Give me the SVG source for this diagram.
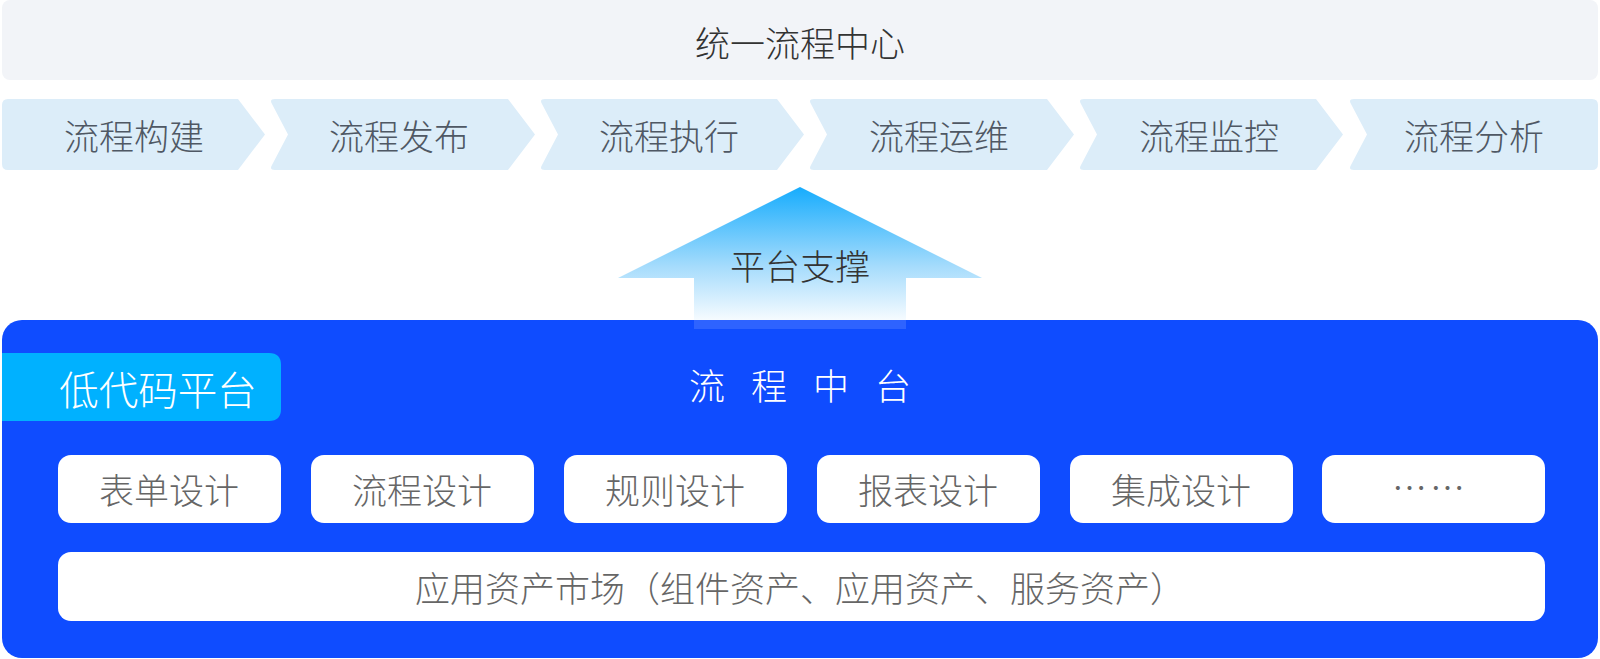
<svg xmlns="http://www.w3.org/2000/svg" width="1600" height="659" viewBox="0 0 1600 659">
<style>
text{font-family:"Noto Sans CJK SC","Noto Sans",sans-serif;font-weight:300;text-anchor:middle;dominant-baseline:central}
.chev{fill:#dcedf9}
.ct{font-size:35px;fill:#4f5864}
.box{fill:#ffffff}
.bt{font-size:35px;fill:#666666}
</style>
<defs>
<linearGradient id="ag" x1="0" y1="0" x2="0" y2="1" gradientUnits="objectBoundingBox">
<stop offset="0" stop-color="#16acfd"/>
<stop offset="0.6" stop-color="#a6dcfc"/>
<stop offset="1" stop-color="#f6fbff"/>
</linearGradient>
</defs>
<rect width="1600" height="659" fill="#ffffff"/>
<g id="top">
<rect x="2" y="0" width="1596" height="80" rx="8" fill="#f2f4f8"/>
<text x="800" y="41" font-size="35" fill="#333333">统一流程中心</text>
</g>
<g id="step1"><path class="chev" d="M8,99 H238 L265,134.5 L238,170 H8 Q2,170 2,164 V105 Q2,99 8,99 Z"/><text class="ct" x="134" y="134">流程构建</text></g>
<g id="step2"><path class="chev" d="M275,99 H508 L535,134.5 L508,170 H275 Q269,170 272,165 L288,134.5 L272,104 Q269,99 275,99 Z"/><text class="ct" x="399" y="134">流程发布</text></g>
<g id="step3"><path class="chev" d="M545,99 H777 L804,134.5 L777,170 H545 Q539,170 542,165 L558,134.5 L542,104 Q539,99 545,99 Z"/><text class="ct" x="669" y="134">流程执行</text></g>
<g id="step4"><path class="chev" d="M814,99 H1047 L1074,134.5 L1047,170 H814 Q808,170 811,165 L827,134.5 L811,104 Q808,99 814,99 Z"/><text class="ct" x="939" y="134">流程运维</text></g>
<g id="step5"><path class="chev" d="M1084,99 H1316 L1343,134.5 L1316,170 H1084 Q1078,170 1081,165 L1097,134.5 L1081,104 Q1078,99 1084,99 Z"/><text class="ct" x="1209" y="134">流程监控</text></g>
<g id="step6"><path class="chev" d="M1354,99 H1592 Q1598,99 1598,105 V164 Q1598,170 1592,170 H1354 Q1348,170 1351,165 L1367,134.5 L1351,104 Q1348,99 1354,99 Z"/><text class="ct" x="1474" y="134">流程分析</text></g>
<g id="platform">
<rect x="2" y="320" width="1596" height="338" rx="20" fill="#0f4cff"/>
<path d="M2,353 H269 Q281,353 281,365 V409 Q281,421 269,421 H2 Z" fill="#00b1ff"/>
<text x="158" y="387" font-size="39.5" fill="#ffffff">低代码平台</text>
<text x="813" y="384" font-size="36" fill="#ffffff" letter-spacing="26">流程中台</text>
</g>
<g id="connectors">
<path d="M800,187 L982,278 H906 V320 H694 V278 H618 Z" fill="url(#ag)"/>
<rect x="694" y="320" width="212" height="9" fill="#ffffff" fill-opacity="0.13"/>
<text x="800" y="264" font-size="35" fill="#333333">平台支撑</text>
</g>
<g id="m1"><rect class="box" x="58" y="455" width="223" height="68" rx="13"/><text class="bt" x="169" y="488">表单设计</text></g>
<g id="m2"><rect class="box" x="311" y="455" width="223" height="68" rx="13"/><text class="bt" x="422" y="488">流程设计</text></g>
<g id="m3"><rect class="box" x="564" y="455" width="223" height="68" rx="13"/><text class="bt" x="675" y="488">规则设计</text></g>
<g id="m4"><rect class="box" x="817" y="455" width="223" height="68" rx="13"/><text class="bt" x="928" y="488">报表设计</text></g>
<g id="m5"><rect class="box" x="1070" y="455" width="223" height="68" rx="13"/><text class="bt" x="1181" y="488">集成设计</text></g>
<g id="m6"><rect class="box" x="1322" y="455" width="223" height="68" rx="13"/><text class="bt" x="1430" y="485" font-size="30" font-family="Liberation Sans, sans-serif" letter-spacing="3">……</text></g>
<g id="market"><rect class="box" x="58" y="552" width="1487" height="69" rx="13"/><text class="bt" x="800" y="586" font-size="34.5">应用资产市场（组件资产、应用资产、服务资产）</text></g>
</svg>
